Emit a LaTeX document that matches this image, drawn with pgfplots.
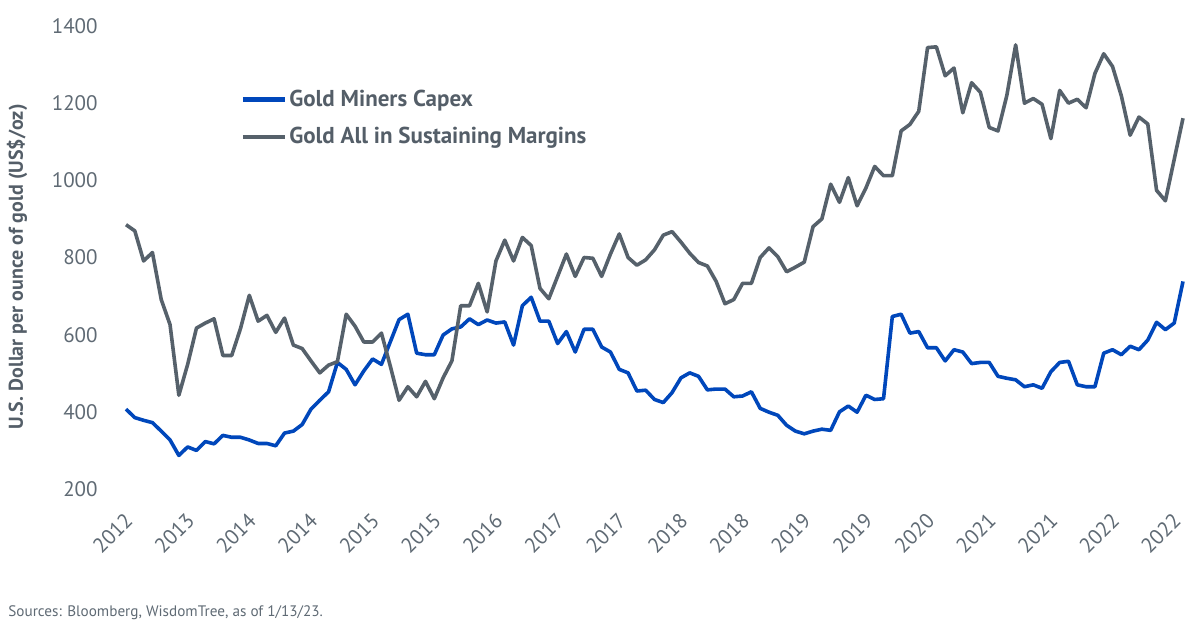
\documentclass[border=0pt]{standalone}
\usepackage{pgfplots}
\pgfplotsset{compat=1.18}
\usepackage{pgfplotstable}
\usepackage{fontspec}
\setmainfont{PT Sans}
\definecolor{wtblue}{RGB}{0,71,187}
\definecolor{wtgray}{RGB}{86,97,107}
\definecolor{txtgray}{RGB}{95,106,116}
\definecolor{lblgray}{RGB}{84,94,104}

\pgfplotstableread{
m capex aisc
0 407 885
1 385 869
2 378 791
3 372 813
4 350 691
5 327 626
6 287 443
7 309 523
8 300 617
9 323 630
10 317 641
11 339 546
12 334 546
13 334 616
14 327 702
15 318 635
16 318 650
17 312 606
18 345 643
19 350 573
20 367 564
21 407 532
22 430 501
23 452 521
24 528 530
25 510 653
26 470 622
27 506 581
28 537 581
29 523 604
30 581 519
31 639 430
32 653 465
33 552 439
34 548 479
35 548 434
36 599 488
37 615 532
38 620 675
39 641 675
40 626 733
41 638 659
42 630 791
43 633 845
44 573 791
45 675 852
46 697 831
47 635 720
48 635 693
49 577 751
50 608 809
51 555 751
52 614 800
53 614 798
54 568 751
55 555 809
56 510 861
57 501 800
58 454 780
59 456 794
60 432 820
61 424 858
62 450 867
63 488 840
64 501 811
65 492 787
66 457 778
67 459 738
68 459 680
69 439 691
70 441 733
71 452 733
72 409 800
73 399 825
74 391 802
75 365 763
76 350 775
77 343 788
78 350 880
79 355 900
80 352 990
81 400 943
82 415 1007
83 399 934
84 443 980
85 432 1036
86 434 1012
87 647 1012
88 653 1128
89 604 1145
90 608 1179
91 566 1344
92 566 1346
93 532 1271
94 561 1291
95 555 1175
96 525 1253
97 528 1228
98 528 1137
99 492 1128
100 487 1220
101 483 1351
102 465 1200
103 470 1212
104 461 1197
105 504 1108
106 528 1233
107 531 1200
108 470 1210
109 465 1188
110 465 1277
111 552 1328
112 561 1295
113 548 1219
114 570 1117
115 561 1164
116 586 1146
117 632 974
118 613 947
119 630 1054
120 738 1161
}\datatable

\begin{document}
\begin{tikzpicture}
\path[use as bounding box] (0,0) rectangle (600bp,317bp);
\begin{axis}[
  at={(63bp,72.5bp)}, anchor=south west,
  scale only axis, width=528.5bp, height=231.5bp,
  xmin=0, xmax=120, ymin=200, ymax=1400,
  clip=false,
  axis line style={draw=none},
  major tick length=0pt,
  xtick={0,7,...,119},
  xticklabels={2012,2013,2014,2014,2015,2015,2016,2017,2017,2018,2018,2019,2019,2020,2021,2021,2022,2022},
  ytick={200,400,...,1400},
  /pgf/number format/assume math mode=true,
  /pgf/number format/1000 sep={},
  yticklabel style={font=\fontsize{10.5bp}{12bp}\selectfont, text=txtgray, anchor=east, inner sep=0pt, xshift=-14bp},
  xticklabel style={font=\fontsize{10.5bp}{12bp}\selectfont, text=txtgray, inner sep=0pt, xshift=-1.25bp, yshift=-11bp, rotate=45, anchor=north east},
  ylabel={U.S. Dollar per ounce of gold (US\$/oz)},
  ylabel style={font=\bfseries\fontsize{10bp}{12bp}\selectfont, text=lblgray, at={(rel axis cs:-0.1031,0.4795)}, anchor=center},
  legend style={draw=none, fill=none, at={(rel axis cs:0.108,0.868)}, anchor=north west,
    font=\bfseries\fontsize{11.5bp}{13bp}\selectfont, text=lblgray, inner sep=0pt, row sep=6.5bp,
    nodes={inner sep=1.2bp}},
  legend cell align=left,
  legend image code/.code={\draw[#1, line width=2.2bp] (0bp,0bp) -- (21bp,0bp);},
]
\addplot[wtblue, line width=1.8bp, line join=round] table[x=m, y=capex] {\datatable};
\addlegendentry{Gold Miners Capex}
\addplot[wtgray, line width=1.8bp, line join=round] table[x=m, y=aisc] {\datatable};
\addlegendentry{Gold All in Sustaining Margins}
\end{axis}
\node[anchor=west, inner sep=0pt, text=txtgray, font=\fontsize{7.6bp}{9bp}\selectfont] at (4bp,10.5bp) {Sources: Bloomberg, WisdomTree, as of 1/13/23.};
\end{tikzpicture}
\end{document}
